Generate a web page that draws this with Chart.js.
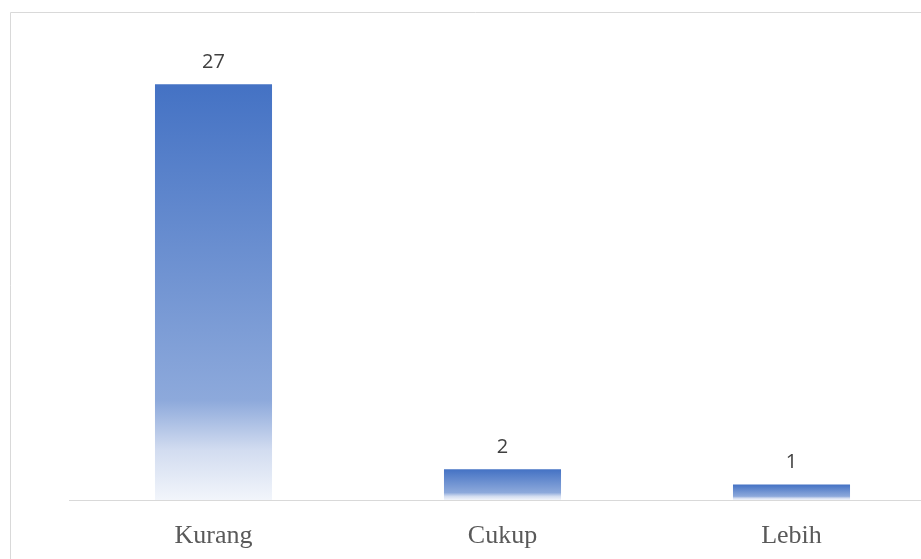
<!DOCTYPE html>
<html>
<head>
<meta charset="utf-8">
<script src="https://cdn.jsdelivr.net/npm/chart.js@4.4.1/dist/chart.umd.min.js"></script>
<style>
  html, body { margin: 0; padding: 0; background: #ffffff; overflow: hidden; }
  #wrap { position: relative; width: 940px; height: 559px; }
</style>
</head>
<body>
<div id="wrap"><canvas id="chart"></canvas></div>
<script>
const categories = ['Kurang', 'Cukup', 'Lebih'];
const counts = [27, 2, 1];
const yMin = 0;
const yMax = 30;

// Vertical fade from the bar top down to its base, one gradient per bar
function barFill(ctx) {
  const chart = ctx.chart;
  const area = chart.chartArea;
  if (!area || ctx.dataIndex === undefined) return '#4472C4';
  const y = chart.scales.y;
  const top = y.getPixelForValue(ctx.raw);
  const base = y.getPixelForValue(0);
  if (!isFinite(top) || !isFinite(base) || base - top < 1) return '#4472C4';
  const g = chart.ctx.createLinearGradient(0, top, 0, base);
  g.addColorStop(0, '#4472C4');
  g.addColorStop(0.76, '#8DA9DB');
  g.addColorStop(0.88, '#D2DCF0');
  g.addColorStop(1, '#F2F5FB');
  return g;
}

// Frame line along the left and top edges, value labels above the bars
const decorations = {
  id: 'decorations',
  beforeDraw(chart) {
    const c = chart.ctx;
    c.save();
    c.strokeStyle = '#D9D9D9';
    c.lineWidth = 1;
    c.beginPath();
    c.moveTo(10.5, chart.height);
    c.lineTo(10.5, 12.5);
    c.lineTo(chart.width, 12.5);
    c.stroke();
    c.restore();
  },
  afterDatasetsDraw(chart) {
    const c = chart.ctx;
    const meta = chart.getDatasetMeta(0);
    c.save();
    c.fillStyle = '#404040';
    c.font = '20px "Open Sans", "Noto Sans", sans-serif';
    c.textAlign = 'center';
    c.textBaseline = 'bottom';
    meta.data.forEach((bar, i) => {
      c.fillText(String(counts[i]), bar.x, bar.y - 12);
    });
    c.restore();
  }
};

new Chart(document.getElementById('chart'), {
  type: 'bar',
  data: {
    labels: categories,
    datasets: [{
      data: counts,
      backgroundColor: barFill,
      borderWidth: 0,
      categoryPercentage: 1,
      barPercentage: 0.405
    }]
  },
  options: {
    responsive: true,
    maintainAspectRatio: false,
    animation: false,
    layout: { padding: { left: 69, right: 4, top: 38, bottom: 0 } },
    plugins: { legend: { display: false }, tooltip: { enabled: false } },
    scales: {
      y: { display: false, min: yMin, max: yMax },
      x: {
        afterFit(scale) { scale.height = 59; },
        grid: { display: false, drawTicks: false },
        border: { display: true, color: '#D9D9D9', width: 1 },
        ticks: {
          padding: 21,
          color: '#595959',
          font: { family: '"Liberation Serif", "Times New Roman", serif', size: 26 }
        }
      }
    }
  },
  plugins: [decorations]
});
</script>
</body>
</html>
